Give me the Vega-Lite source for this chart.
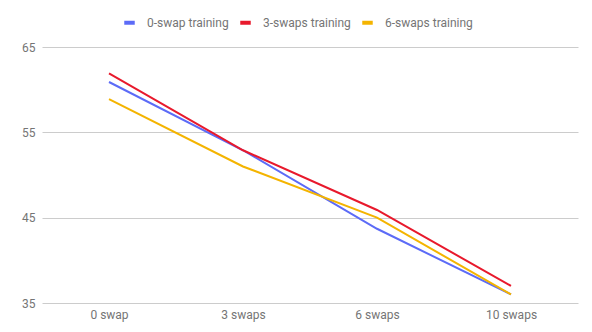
{
  "$schema": "https://vega.github.io/schema/vega-lite/v6.json",
  "width": 536,
  "height": 256,
  "autosize": {"type": "none"},
  "padding": {"left": 42, "top": 47, "right": 14, "bottom": 29},
  "background": "white",
  "config": {
    "view": {"stroke": null},
    "font": "Roboto",
    "axis": {"labelFont": "Roboto", "labelFontSize": 12, "labelColor": "#757575"},
    "legend": {"labelFont": "Roboto", "labelFontSize": 12, "labelColor": "#757575"}
  },
  "data": {
    "values": [
      {"swaps": "0 swap", "series": "0-swap training", "acc": 60.9},
      {"swaps": "3 swaps", "series": "0-swap training", "acc": 52.9},
      {"swaps": "6 swaps", "series": "0-swap training", "acc": 43.7},
      {"swaps": "10 swaps", "series": "0-swap training", "acc": 36.0},
      {"swaps": "0 swap", "series": "3-swaps training", "acc": 61.9},
      {"swaps": "3 swaps", "series": "3-swaps training", "acc": 52.9},
      {"swaps": "6 swaps", "series": "3-swaps training", "acc": 45.9},
      {"swaps": "10 swaps", "series": "3-swaps training", "acc": 37.0},
      {"swaps": "0 swap", "series": "6-swaps training", "acc": 58.9},
      {"swaps": "3 swaps", "series": "6-swaps training", "acc": 51.0},
      {"swaps": "6 swaps", "series": "6-swaps training", "acc": 45.0},
      {"swaps": "10 swaps", "series": "6-swaps training", "acc": 36.0}
    ]
  },
  "mark": {"type": "line", "strokeWidth": 2},
  "encoding": {
    "x": {
      "field": "swaps",
      "type": "ordinal",
      "sort": ["0 swap", "3 swaps", "6 swaps", "10 swaps"],
      "scale": {"type": "point", "padding": 0.5},
      "axis": {"title": null, "labelAngle": 0, "ticks": false, "domain": false, "grid": false, "labelPadding": 6}
    },
    "y": {
      "field": "acc",
      "type": "quantitative",
      "scale": {"domain": [35, 65], "nice": false, "zero": false},
      "axis": {"title": null, "values": [35, 45, 55, 65], "ticks": false, "domain": false, "gridColor": "#cccccc", "labelPadding": 7}
    },
    "color": {
      "field": "series",
      "type": "nominal",
      "scale": {"domain": ["0-swap training", "3-swaps training", "6-swaps training"], "range": ["#5c6bf7", "#e8192c", "#f4b400"]},
      "legend": {
        "title": null,
        "orient": "none",
        "direction": "horizontal",
        "legendX": 80,
        "legendY": -32,
        "symbolType": "stroke",
        "symbolSize": 110,
        "symbolStrokeWidth": 4,
        "labelOffset": 10,
        "columnPadding": 3
      }
    }
  }
}
